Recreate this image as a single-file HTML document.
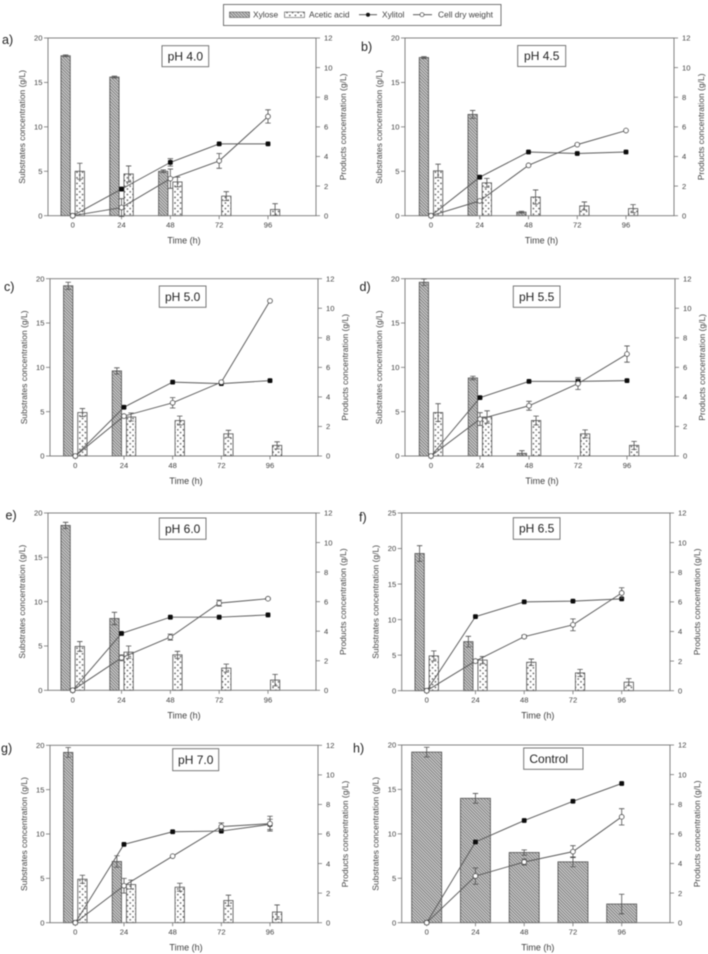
<!DOCTYPE html>
<html lang="en">
<head>
<meta charset="utf-8">
<title>Fermentation profiles at different pH values</title>
<style>
  html, body { margin: 0; padding: 0; background: #fff; }
  #figure { display: block; width: 708px; height: 954px; filter: blur(0.5px); }
  text { font-family: "Liberation Sans", sans-serif; fill: #3f3f3f; }
  .tick-label { font-size: 7.6px; }
  .axis-title { font-size: 8.5px; }
  .x-title { font-size: 9px; }
  .legend-text { font-size: 8.4px; }
  .panel-letter { font-size: 12.5px; fill: #222; }
  .ph-title { font-size: 12px; fill: #222; }
</style>
</head>
<body>
<svg id="figure" xmlns="http://www.w3.org/2000/svg" width="708" height="954" viewBox="0 0 708 954">
  <defs>
    <pattern id="hatch" patternUnits="userSpaceOnUse" width="2.2" height="2.2" patternTransform="rotate(45)">
      <rect width="2.2" height="2.2" fill="#c8c8c8"></rect>
      <line x1="0" y1="0" x2="2.2" y2="0" stroke="#5c5c5c" stroke-width="1.25"></line>
    </pattern>
    <pattern id="dots" patternUnits="userSpaceOnUse" width="5.6" height="5.6">
      <rect width="5.6" height="5.6" fill="#fff"></rect>
      <circle cx="1.4" cy="1.4" r="0.85" fill="#555"></circle>
      <circle cx="4.2" cy="4.2" r="0.85" fill="#555"></circle>
    </pattern>
  </defs>
  <rect x="0" y="0" width="708" height="954" fill="#ffffff"></rect>

  <g>
    <rect x="223.5" y="4.5" width="277.5" height="21" fill="#fff" stroke="#555" stroke-width="0.8"></rect>
    <rect x="229.5" y="12" width="20" height="5.5" fill="url(#hatch)" stroke="#555" stroke-width="0.6"></rect>
    <text class="legend-text" x="253" y="17.7">Xylose</text>
    <rect x="284.5" y="12" width="20" height="5.5" fill="url(#dots)" stroke="#555" stroke-width="0.6"></rect>
    <text class="legend-text" x="309" y="17.7">Acetic acid</text>
    <line x1="359" y1="14.7" x2="377" y2="14.7" stroke="#444" stroke-width="0.8"></line>
    <circle cx="368" cy="14.7" r="2" fill="#111"></circle>
    <text class="legend-text" x="382" y="17.7">Xylitol</text>
    <line x1="413" y1="14.7" x2="432" y2="14.7" stroke="#444" stroke-width="0.8" stroke-dasharray="8 3 8"></line>
    <circle cx="422" cy="14.7" r="2" fill="#fff" stroke="#444" stroke-width="0.7"></circle>
    <text class="legend-text" x="438" y="17.7">Cell dry weight</text>
  </g>
  <g id="panels"></g>
</svg>

<script>
// ---- Shared categories and tick labels ----
const categories = [0, 24, 48, 72, 96];
const substrateTicks = [0, 5, 10, 15, 20];
const substrateTicksF = [0, 5, 10, 15, 20, 25];
const productTicks = [0, 2, 4, 6, 8, 10, 12];

// ---- Panel a) pH 4.0 ----
const xyloseA = [18, 15.6, 5, null, null];
const xyloseErrA = [0.1, 0.1, 0.15, 0, 0];
const aceticA = [5, 4.7, 3.8, 2.2, 0.7];
const aceticErrA = [0.9, 0.9, 0.55, 0.5, 0.65];
const xylitolA = [0, 1.8, 3.6, 4.85, 4.85];
const xylitolErrA = [0, 0, 0.25, 0, 0];
const cdwA = [0, 0.55, 2.5, 3.7, 6.7];
const cdwErrA = [0, 0.6, 0.65, 0.5, 0.45];

// ---- Panel b) pH 4.5 ----
const xyloseB = [17.8, 11.4, 0.4, null, null];
const xyloseErrB = [0.1, 0.45, 0.1, 0, 0];
const aceticB = [5.05, 3.7, 2.1, 1.1, 0.8];
const aceticErrB = [0.75, 0.5, 0.8, 0.45, 0.45];
const xylitolB = [0, 2.6, 4.3, 4.2, 4.3];
const xylitolErrB = [0, 0, 0, 0, 0];
const cdwB = [0, 1, 3.4, 4.8, 5.75];
const cdwErrB = [0, 0, 0, 0, 0];

// ---- Panel c) pH 5.0 ----
const xyloseC = [19.2, 9.6, null, null, null];
const xyloseErrC = [0.4, 0.35, 0, 0, 0];
const aceticC = [4.9, 4.4, 4, 2.5, 1.2];
const aceticErrC = [0.45, 0.45, 0.5, 0.4, 0.4];
const xylitolC = [0, 3.3, 5, 4.9, 5.1];
const xylitolErrC = [0, 0, 0, 0, 0];
const cdwC = [0, 2.7, 3.6, 5, 10.5];
const cdwErrC = [0, 0, 0.35, 0, 0];

// ---- Panel d) pH 5.5 ----
const xyloseD = [19.6, 8.8, 0.3, null, null];
const xyloseErrD = [0.35, 0.2, 0.3, 0, 0];
const aceticD = [4.9, 4.4, 4, 2.5, 1.2];
const aceticErrD = [1, 0.7, 0.5, 0.45, 0.45];
const xylitolD = [0, 3.95, 5.05, 5.05, 5.1];
const xylitolErrD = [0, 0, 0, 0.15, 0];
const cdwD = [0, 2.5, 3.4, 4.9, 6.9];
const cdwErrD = [0, 0.43, 0.3, 0.4, 0.55];

// ---- Panel e) pH 6.0 ----
const xyloseE = [18.6, 8.1, null, null, null];
const xyloseErrE = [0.35, 0.7, 0, 0, 0];
const aceticE = [4.95, 4.3, 4, 2.5, 1.15];
const aceticErrE = [0.55, 0.7, 0.4, 0.45, 0.65];
const xylitolE = [0, 3.85, 4.95, 4.95, 5.1];
const xylitolErrE = [0, 0, 0, 0, 0];
const cdwE = [0, 2.2, 3.6, 5.9, 6.2];
const cdwErrE = [0, 0.2, 0.2, 0.2, 0.05];

// ---- Panel f) pH 6.5 ----
const xyloseF = [19.3, 6.9, null, null, null];
const xyloseErrF = [1.1, 0.75, 0, 0, 0];
const aceticF = [4.9, 4.3, 4, 2.5, 1.2];
const aceticErrF = [0.7, 0.5, 0.45, 0.5, 0.5];
const xylitolF = [0, 5, 6, 6.05, 6.2];
const xylitolErrF = [0, 0, 0, 0, 0];
const cdwF = [0, 2, 3.65, 4.45, 6.6];
const cdwErrF = [0, 0.1, 0.1, 0.4, 0.35];

// ---- Panel g) pH 7.0 ----
const xyloseG = [19.2, 6.9, null, null, null];
const xyloseErrG = [0.55, 0.65, 0, 0, 0];
const aceticG = [4.9, 4.3, 4, 2.5, 1.2];
const aceticErrG = [0.45, 0.5, 0.45, 0.6, 0.8];
const xylitolG = [0, 5.3, 6.15, 6.2, 6.65];
const xylitolErrG = [0, 0, 0, 0, 0.35];
const cdwG = [0, 2.5, 4.5, 6.5, 6.7];
const cdwErrG = [0, 0.5, 0, 0.25, 0.5];

// ---- Panel h) Control ----
const xyloseH = [19.2, 14, 7.9, 6.85, 2.1];
const xyloseErrH = [0.55, 0.55, 0.3, 0.55, 1.1];
const xylitolH = [0, 5.45, 6.9, 8.2, 9.4];
const xylitolErrH = [0, 0, 0, 0, 0];
const cdwH = [0, 3.15, 4.1, 4.8, 7.15];
const cdwErrH = [0, 0.55, 0.2, 0.4, 0.55];

// ---- Which data series each panel plots ----
const panelSeries = [
  { id: 'a', title: 'pH 4.0', xylose: xyloseA, xyloseErr: xyloseErrA, acetic: aceticA, aceticErr: aceticErrA, xylitol: xylitolA, xylitolErr: xylitolErrA, cdw: cdwA, cdwErr: cdwErrA, leftTicks: substrateTicks },
  { id: 'b', title: 'pH 4.5', xylose: xyloseB, xyloseErr: xyloseErrB, acetic: aceticB, aceticErr: aceticErrB, xylitol: xylitolB, xylitolErr: xylitolErrB, cdw: cdwB, cdwErr: cdwErrB, leftTicks: substrateTicks },
  { id: 'c', title: 'pH 5.0', xylose: xyloseC, xyloseErr: xyloseErrC, acetic: aceticC, aceticErr: aceticErrC, xylitol: xylitolC, xylitolErr: xylitolErrC, cdw: cdwC, cdwErr: cdwErrC, leftTicks: substrateTicks },
  { id: 'd', title: 'pH 5.5', xylose: xyloseD, xyloseErr: xyloseErrD, acetic: aceticD, aceticErr: aceticErrD, xylitol: xylitolD, xylitolErr: xylitolErrD, cdw: cdwD, cdwErr: cdwErrD, leftTicks: substrateTicks },
  { id: 'e', title: 'pH 6.0', xylose: xyloseE, xyloseErr: xyloseErrE, acetic: aceticE, aceticErr: aceticErrE, xylitol: xylitolE, xylitolErr: xylitolErrE, cdw: cdwE, cdwErr: cdwErrE, leftTicks: substrateTicks },
  { id: 'f', title: 'pH 6.5', xylose: xyloseF, xyloseErr: xyloseErrF, acetic: aceticF, aceticErr: aceticErrF, xylitol: xylitolF, xylitolErr: xylitolErrF, cdw: cdwF, cdwErr: cdwErrF, leftTicks: substrateTicksF },
  { id: 'g', title: 'pH 7.0', xylose: xyloseG, xyloseErr: xyloseErrG, acetic: aceticG, aceticErr: aceticErrG, xylitol: xylitolG, xylitolErr: xylitolErrG, cdw: cdwG, cdwErr: cdwErrG, leftTicks: substrateTicks },
  { id: 'h', title: 'Control', xylose: xyloseH, xyloseErr: xyloseErrH, acetic: null, aceticErr: null, xylitol: xylitolH, xylitolErr: xylitolErrH, cdw: cdwH, cdwErr: cdwErrH, leftTicks: substrateTicks }
];

// ---- Panel layout (geometry only) ----
const panelLayouts = {
  a: { left: 48, right: 316, top: 38, bottom: 215.7, x0: 72.7, x96: 268, lx: 2, ly: 44, bx: 162, by: 45.7, bw: 46.7, bh: 21 },
  b: { left: 405, right: 674, top: 38, bottom: 215.7, x0: 431, x96: 626, lx: 361, ly: 51, bx: 517.7, by: 45.5, bw: 48, bh: 21 },
  c: { left: 50, right: 318, top: 278.7, bottom: 456, x0: 75.3, x96: 270, lx: 4, ly: 291, bx: 159.3, by: 286, bw: 46.7, bh: 21.3 },
  d: { left: 405, right: 675, top: 278.7, bottom: 456, x0: 431, x96: 627, lx: 359.5, ly: 291, bx: 513.3, by: 286, bw: 46.7, bh: 21.3 },
  e: { left: 48, right: 316, top: 513, bottom: 690.3, x0: 72.7, x96: 268, lx: 5.5, ly: 519.5, bx: 159.3, by: 518, bw: 46.7, bh: 21.3 },
  f: { left: 401.7, right: 670, top: 513, bottom: 690.7, x0: 426.7, x96: 621.7, lx: 359, ly: 521.5, bx: 513.3, by: 517.7, bw: 46.7, bh: 21.6 },
  g: { left: 50, right: 318, top: 745.3, bottom: 922.7, x0: 75.3, x96: 270, lx: 1, ly: 752.5, bx: 172.7, by: 748.7, bw: 46, bh: 22 },
  h: { left: 401.7, right: 670, top: 745, bottom: 922.7, x0: 426.7, x96: 621.7, lx: 353, ly: 752.5, bx: 523.7, by: 748, bw: 59.3, bh: 21.3 }
};

const SVG_NS = 'http://www.w3.org/2000/svg';
const panelsRoot = document.getElementById('panels');

function make(tag, attrs, parent) {
  const node = document.createElementNS(SVG_NS, tag);
  Object.keys(attrs).forEach(function (k) { node.setAttribute(k, attrs[k]); });
  parent.appendChild(node);
  return node;
}

function drawPanel(series) {
  const box = panelLayouts[series.id];
  const leftMax = series.leftTicks[series.leftTicks.length - 1];
  const rightMax = productTicks[productTicks.length - 1];
  const xScale = function (t) { return box.x0 + (t / categories[categories.length - 1]) * (box.x96 - box.x0); };
  const yLeft = function (v) { return box.bottom - (v / leftMax) * (box.bottom - box.top); };
  const yRight = function (v) { return box.bottom - (v / rightMax) * (box.bottom - box.top); };
  const isControl = series.acetic === null;
  const barWidth = isControl ? 30 : 9.3;
  const barOffset = isControl ? 0 : 7.1;
  const axisColor = '#757575';
  const markColor = '#505050';

  const group = make('g', {}, panelsRoot);
  
  

  function whisker(x, top, bottom, name) {
    const w = make('path', {
      d: 'M' + (x - 2.7) + ' ' + top + 'H' + (x + 2.7) + 'M' + x + ' ' + top + 'V' + bottom + 'M' + (x - 2.7) + ' ' + bottom + 'H' + (x + 2.7),
      fill: 'none', stroke: markColor, 'stroke-width': 0.8
    }, group);
    
    
  }

  function bar(values, errors, fill, offset, name) {
    values.forEach(function (v, i) {
      if (v === null) return;
      const cx = xScale(categories[i]) + offset;
      const rect = make('rect', {
        x: cx - barWidth / 2, y: yLeft(v), width: barWidth, height: box.bottom - yLeft(v),
        fill: fill, stroke: markColor, 'stroke-width': 0.8
      }, group);
      
      
    });
    values.forEach(function (v, i) {
      if (v === null || !errors[i]) return;
      const cx = xScale(categories[i]) + offset;
      whisker(cx, yLeft(v + errors[i]), yLeft(v - errors[i]), name + '-error-' + categories[i] + 'h');
    });
  }

  bar(series.xylose, series.xyloseErr, 'url(#hatch)', -barOffset, 'xylose');
  if (series.acetic) bar(series.acetic, series.aceticErr, 'url(#dots)', barOffset, 'acetic-acid');

  // frame
  const frame = make('rect', {
    x: box.left, y: box.top, width: box.right - box.left, height: box.bottom - box.top,
    fill: 'none', stroke: axisColor, 'stroke-width': 0.9
  }, group);
  
  

  // left ticks
  series.leftTicks.forEach(function (v) {
    const tick = make('line', { x1: box.left - 4, x2: box.left, y1: yLeft(v), y2: yLeft(v), stroke: axisColor, 'stroke-width': 0.8 }, group);
    
    
    const label = make('text', { class: 'tick-label', x: box.left - 5.5, y: yLeft(v) + 2.7, 'text-anchor': 'end' }, group);
    label.textContent = v;
    
    
  });

  // right ticks
  productTicks.forEach(function (v) {
    const tick = make('line', { x1: box.right, x2: box.right + 4, y1: yRight(v), y2: yRight(v), stroke: axisColor, 'stroke-width': 0.8 }, group);
    
    
    const label = make('text', { class: 'tick-label', x: box.right + 8, y: yRight(v) + 2.7 }, group);
    label.textContent = v;
    
    
  });

  // x ticks
  categories.forEach(function (c) {
    const tick = make('line', { x1: xScale(c), x2: xScale(c), y1: box.bottom, y2: box.bottom + 3.5, stroke: axisColor, 'stroke-width': 0.8 }, group);
    
    
    const label = make('text', { class: 'tick-label', x: xScale(c), y: box.bottom + 12, 'text-anchor': 'middle' }, group);
    label.textContent = c;
    
    
  });

  // axis titles
  const midY = (box.top + box.bottom) / 2;
  const xTitle = make('text', { class: 'x-title', x: (box.left + box.right) / 2 + 2, y: box.bottom + 28, 'text-anchor': 'middle' }, group);
  xTitle.textContent = 'Time (h)';
  
  

  const leftTitle = make('text', { class: 'axis-title', 'text-anchor': 'middle', transform: 'translate(' + (box.left - 23) + ' ' + midY + ') rotate(-90)' }, group);
  leftTitle.textContent = 'Substrates concentration (g/L)';
  
  

  const rightTitle = make('text', { class: 'axis-title', 'text-anchor': 'middle', transform: 'translate(' + (box.right + 30) + ' ' + midY + ') rotate(-90)' }, group);
  rightTitle.textContent = 'Products concentration (g/L)';
  
  

  // line series
  function line(values, name) {
    const pts = values.map(function (v, i) { return xScale(categories[i]) + ',' + yRight(v); }).join(' ');
    const poly = make('polyline', { points: pts, fill: 'none', stroke: '#5a5a5a', 'stroke-width': 0.95 }, group);
    
    
  }
  line(series.xylitol, 'xylitol');
  line(series.cdw, 'cell-dry-weight');

  series.xylitol.forEach(function (v, i) {
    if (series.xylitolErr[i]) {
      whisker(xScale(categories[i]), yRight(v + series.xylitolErr[i]), yRight(v - series.xylitolErr[i]), 'xylitol-error-' + categories[i] + 'h');
    }
    const dot = make('rect', { x: xScale(categories[i]) - 2.4, y: yRight(v) - 2.4, width: 4.8, height: 4.8, rx: 1, fill: '#0c0c0c' }, group);
    
    
  });

  series.cdw.forEach(function (v, i) {
    if (series.cdwErr[i]) {
      whisker(xScale(categories[i]), yRight(v + series.cdwErr[i]), yRight(v - series.cdwErr[i]), 'cell-dry-weight-error-' + categories[i] + 'h');
    }
    const dot = make('circle', { cx: xScale(categories[i]), cy: yRight(v), r: 2.4, fill: '#fff', stroke: '#4a4a4a', 'stroke-width': 0.8 }, group);
    
    
  });

  // condition box
  const titleBox = make('rect', { x: box.bx, y: box.by, width: box.bw, height: box.bh, fill: '#fff', stroke: '#6a6a6a', 'stroke-width': 0.9 }, group);
  
  
  const titleText = make('text', {
    class: 'ph-title',
    x: isControl ? box.bx + 5.7 : box.bx + box.bw / 2,
    y: box.by + box.bh / 2 + 4.2,
    'text-anchor': isControl ? 'start' : 'middle'
  }, group);
  titleText.textContent = series.title;
  
  

  // panel letter
  const letter = make('text', { class: 'panel-letter', x: box.lx, y: box.ly }, group);
  letter.textContent = series.id + ')';
  
  
}

panelSeries.forEach(drawPanel);
</script>
</body>
</html>
